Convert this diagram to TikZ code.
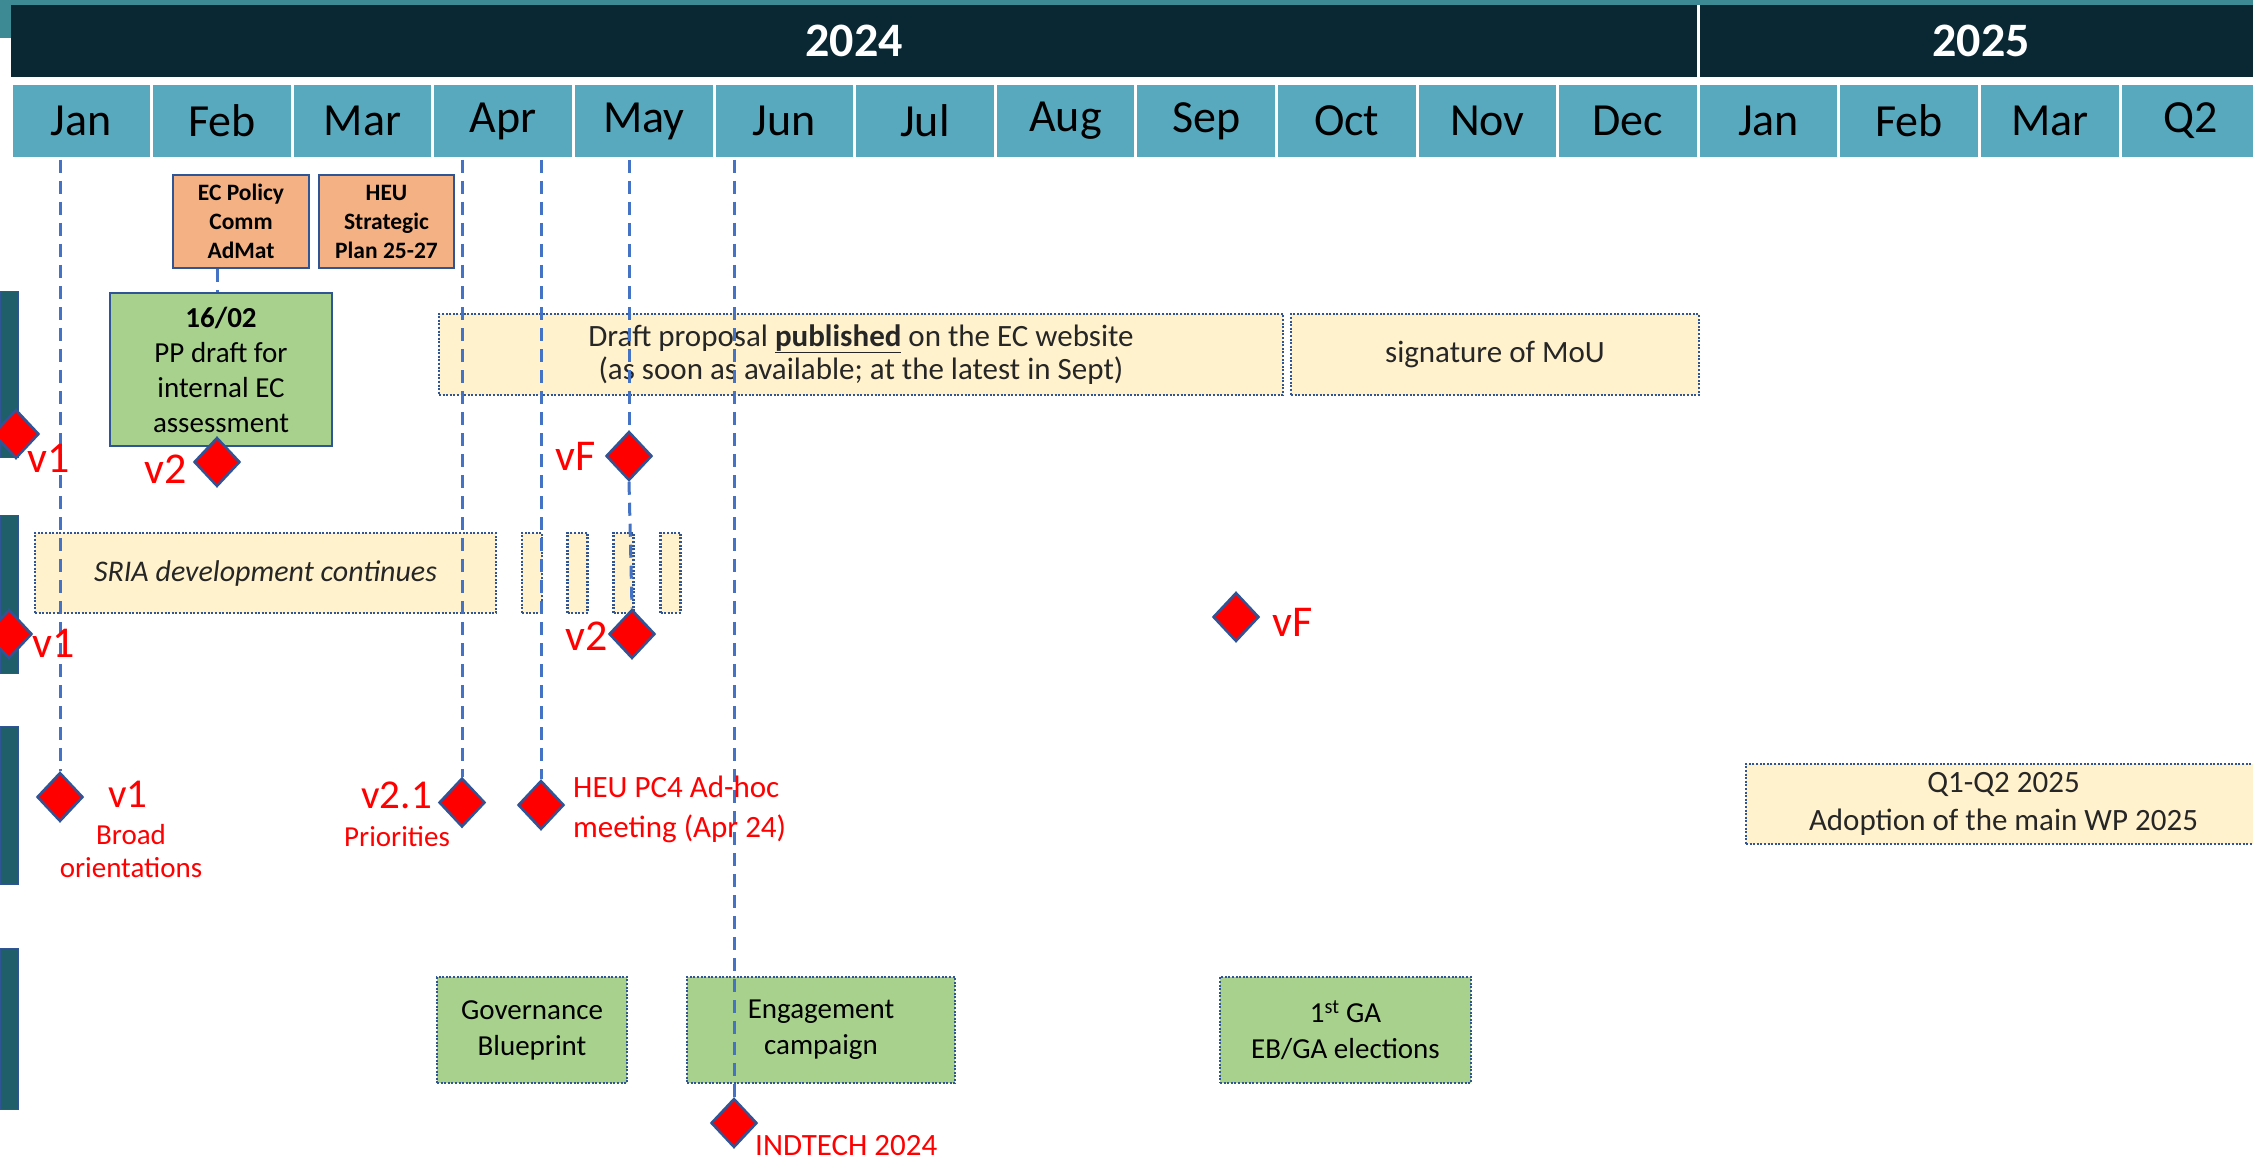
\documentclass[tikz,border=0pt]{standalone}
\usepackage{fontspec}
\setmainfont{Carlito}
\usetikzlibrary{shapes.geometric,calc}
\definecolor{yearc}{HTML}{0A2834}
\definecolor{monthc}{HTML}{58A9BE}
\definecolor{lanec}{HTML}{1E5F69}
\definecolor{texc}{HTML}{3E8A94}
\definecolor{orangec}{HTML}{F4B183}
\definecolor{greenc}{HTML}{A9D18E}
\definecolor{yellowc}{HTML}{FFF2CC}
\definecolor{bord}{HTML}{2F5597}
\definecolor{connc}{HTML}{4472C4}
\definecolor{redc}{HTML}{FF0000}
\definecolor{txtc}{HTML}{262626}
\begin{document}
\begin{tikzpicture}[x=1pt,y=-1pt,
  yearbox/.style={fill=yearc, text=white, minimum height=72pt, inner sep=0pt,
    font=\bfseries\fontsize{48}{56}\selectfont},
  monthbox/.style={fill=monthc, text=black, minimum width=137.6pt, minimum height=72pt,
    inner sep=0pt, font=\fontsize{46}{54}\selectfont},
  lanebar/.style={fill=lanec, draw=bord, line width=1pt, minimum width=18pt, inner sep=0pt},
  solidbox/.style={draw=bord, line width=2.5pt, inner sep=0pt, align=center, text=black},
  dotbox/.style={draw=bord, line width=2.2pt, dash pattern=on 2pt off 1.6pt,
    inner sep=0pt, align=center, text=txtc},
  dia/.style={diamond, fill=redc, draw=bord, line width=2.5pt, inner sep=0pt,
    minimum width=46pt, minimum height=49pt},
  conn/.style={draw=connc, line width=3pt, dash pattern=on 13pt off 8pt},
  biglab/.style={text=redc, inner sep=0pt, font=\fontsize{44}{50}\selectfont},
  midlab/.style={text=redc, inner sep=0pt, font=\fontsize{41}{48}\selectfont},
  smalllab/.style={text=redc, inner sep=0pt, font=\fontsize{29}{33}\selectfont},
  redtxt/.style={text=redc, inner sep=0pt, font=\fontsize{31}{40}\selectfont}]
\useasboundingbox (0,0) rectangle (2253,1158);
\clip (0,0) rectangle (2253,1158);
\fill[white] (0,0) rectangle (2253,1158);
% texture strip
\fill[texc] (0,0) rectangle (2253,5);
\fill[texc] (0,0) rectangle (11,38);
% header
\node[yearbox, minimum width=1686pt] (y2024) at (854,41) {2024};
\node[yearbox, minimum width=562pt] (y2025) at (1981,41) {2025};
\foreach \m [count=\i from 0] in {Jan,Feb,Mar,Apr,May,Jun,Jul,Aug,Sep,Oct,Nov,Dec,Jan,Feb,Mar,Q2}
  \node[monthbox] (m\i) at ({81.3+140.6*\i},121) {\m};
% swimlane bars
\node[lanebar, minimum height=166pt] (lane1) at (9,374) {};
\node[lanebar, minimum height=158pt] (lane2) at (9,594) {};
\node[lanebar, minimum height=158pt] (lane3) at (9,805) {};
\node[lanebar, minimum height=161pt] (lane4) at (9,1028.5) {};
% boxes
\node[solidbox, fill=orangec, minimum width=136pt, minimum height=93pt,
  font=\bfseries\fontsize{23.5}{29}\selectfont] (ecpol) at (241,221.5) {EC Policy\\Comm\\AdMat};
\node[solidbox, fill=orangec, minimum width=135pt, minimum height=93pt,
  font=\bfseries\fontsize{23.5}{29}\selectfont] (heusp) at (386.5,221.5) {HEU\\Strategic\\Plan 25-27};
\node[solidbox, fill=greenc, minimum width=222pt, minimum height=153pt,
  font=\fontsize{29}{35}\selectfont] (ppdraft) at (221,369.5) {\textbf{16/02}\\PP draft for\\internal EC\\assessment};
\node[dotbox, fill=yellowc, minimum width=844pt, minimum height=81pt,
  font=\fontsize{31}{36}\selectfont] (draft) at (861,354.5)
  {\raisebox{-3pt}{Draft proposal \underline{\textbf{published}} on the EC website}\\(as soon as available; at the latest in Sept)};
\node[dotbox, fill=yellowc, minimum width=408pt, minimum height=81pt,
  font=\fontsize{31}{36}\selectfont] (mou) at (1495,354.5) {signature of MoU};
\node[dotbox, fill=yellowc, minimum width=461pt, minimum height=80pt,
  font=\itshape\fontsize{30}{36}\selectfont] (sria) at (265.5,573) {SRIA development continues};
\node[dotbox, fill=yellowc, minimum width=20pt, minimum height=80pt] (sm1) at (532,573) {};
\node[dotbox, fill=yellowc, minimum width=20pt, minimum height=80pt] (sm2) at (577.5,573) {};
\node[dotbox, fill=yellowc, minimum width=20pt, minimum height=80pt] (sm3) at (623.5,573) {};
\node[dotbox, fill=yellowc, minimum width=20pt, minimum height=80pt] (sm4) at (670.5,573) {};
\node[dotbox, fill=yellowc, minimum width=515pt, minimum height=80pt,
  font=\fontsize{31}{38}\selectfont] (q1q2) at (2003.5,804) {Q1-Q2 2025\\Adoption of the main WP 2025};
\node[dotbox, fill=greenc, text=black, minimum width=190pt, minimum height=106pt,
  font=\fontsize{29}{36}\selectfont] (gov) at (532,1030) {Governance\\Blueprint};
\node[dotbox, fill=greenc, text=black, minimum width=268pt, minimum height=106pt,
  font=\fontsize{29}{36}\selectfont] (eng) at (821,1030) {Engagement\\campaign};
\node[dotbox, fill=greenc, text=black, minimum width=251pt, minimum height=106pt,
  font=\fontsize{29}{36}\selectfont] (ga) at (1345.5,1030) {1\textsuperscript{st} GA\\EB/GA elections};
% diamonds
\node[dia] (d1a) at (16,434) {};
\node[dia] (d1b) at (217,462) {};
\node[dia] (d1c) at (629,456) {};
\node[dia] (d2a) at (9,634) {};
\node[dia] (d2b) at (632,634) {};
\node[dia] (d2c) at (1236,617) {};
\node[dia] (d3a) at (60,797) {};
\node[dia] (d3b) at (462,802.5) {};
\node[dia] (d3c) at (541,805) {};
\node[dia] (d4) at (734,1123) {};
% dashed connectors
\coordinate (t1) at (60,160);
\coordinate (t2) at (462,160);
\coordinate (t3) at (541,160);
\coordinate (t4) at (629,160);
\coordinate (t5) at (734,160);
\draw[conn] (t1) -- (d3a.north);
\draw[conn] (t2) -- (d3b.north);
\draw[conn] (t3) -- (d3c.north);
\draw[conn] (t4) -- (d1c.north);
\draw[conn] (d1c.south) -- (d2b.north);
\draw[conn] (t5) -- (d4.north);
\draw[conn] (ecpol.south -| d1b) -- (ppdraft.north -| d1b);
% labels
\node[biglab, anchor=base west] (l1v1) at (27,472) {v1};
\node[biglab, anchor=base east] (l1v2) at (187,483) {v2};
\node[biglab, anchor=base east] (l1vF) at (596,470) {vF};
\node[biglab, anchor=base west] (l2v1) at (32,657) {v1};
\node[biglab, anchor=base east] (l2v2) at (608,650) {v2};
\node[biglab, anchor=base west] (l2vF) at (1272,636) {vF};
\node[midlab, anchor=base west] (l3v1) at (108,807) {v1};
\node[midlab, anchor=base east] (l3v2) at (432,808) {v2.1};
\node[smalllab, align=center] (broad) at (131,851) {Broad\\orientations};
\node[smalllab, anchor=base] (prio) at (397,846) {Priorities};
\node[redtxt, anchor=west, align=left] (heu) at (573,809) {HEU PC4 Ad-hoc\\meeting (Apr 24)};
\node[redtxt, anchor=base west] (indt) at (755,1155) {INDTECH 2024};
\end{tikzpicture}
\end{document}
